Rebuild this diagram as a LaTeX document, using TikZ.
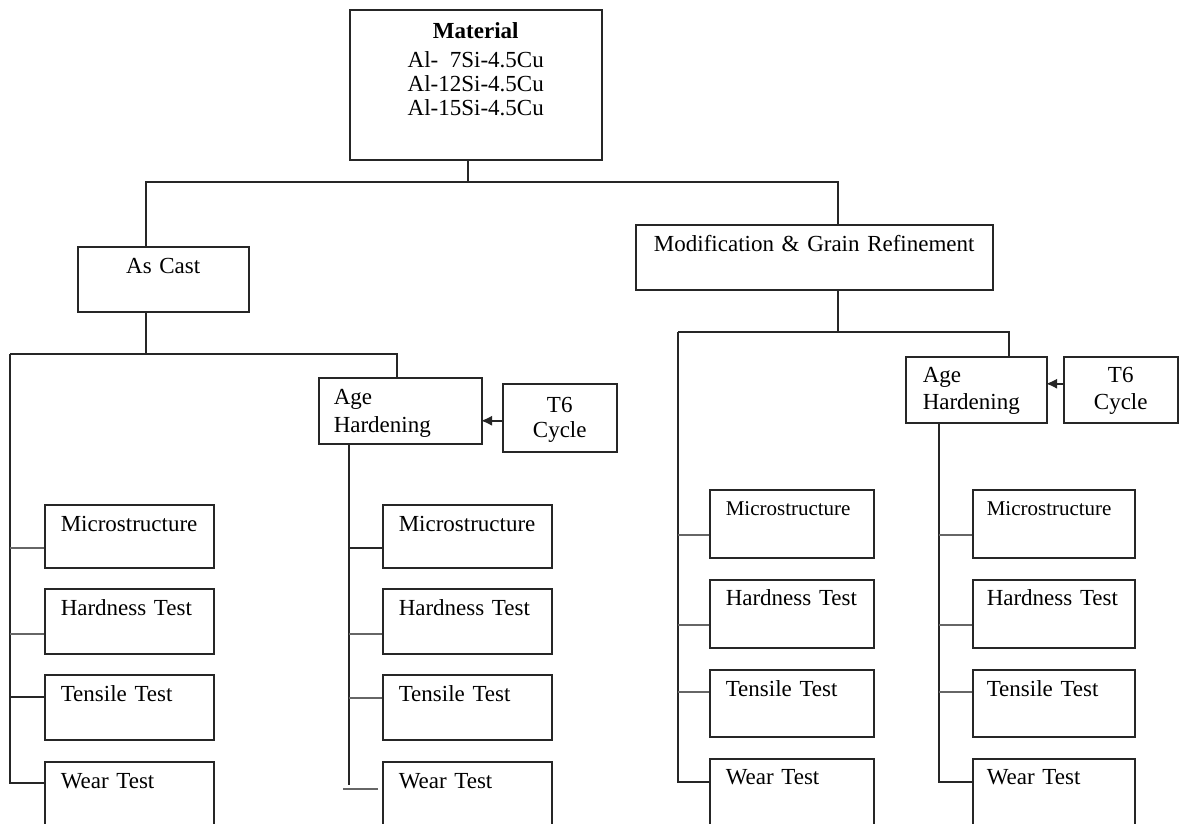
\documentclass[tikz,border=0pt]{standalone}
\usepackage{fontspec}
\setmainfont{Liberation Serif}
\usetikzlibrary{arrows.meta}
\newcommand\figfont{\fontsize{23}{27}\selectfont}
\newcommand\smallfig{\fontsize{21}{25}\selectfont}
\begin{document}
\begin{tikzpicture}[x=1pt,y=-1pt,
  bx/.style={draw=black!85, line width=1.5pt, anchor=north west, inner ysep=0pt, font=\figfont},
  lb/.style={bx, align=left},
  cb/.style={bx, align=center, inner xsep=4pt},
  ln/.style={draw=black!85, line width=1.5pt},
  tc/.style={draw=black!60, line width=1.8pt},
  arr/.style={ln, -{Latex[length=11pt,width=10pt]}},
]
\useasboundingbox (0,0) rectangle (1183,823);
\fill[white] (0,0) rectangle (1183,823);
\clip (0,0) rectangle (1183,823);

% top level
\node[cb, text width=244pt, text height=29pt, text depth=121pt, font={\fontsize{23}{24}\selectfont}] (mat) at (349,9)
  {\textbf{Material}\\[5pt]Al-\hphantom{1}7Si-4.5Cu\\Al-12Si-4.5Cu\\Al-15Si-4.5Cu};
\node[cb, text width=163pt, text height=27pt, text depth=38pt] (cast) at (77,246) {As Cast};
\node[cb, text width=349pt, text height=27pt, text depth=38pt] (mod) at (635,224) {Modification \& Grain Refinement};

% age hardening and T6
\node[lb, inner xsep=15pt, text width=133pt, text height=27pt, text depth=39pt, font={\fontsize{23}{28}\selectfont}] (ageL) at (318,377) {Age\\Hardening};
\node[cb, text width=106pt, text height=29pt, text depth=39pt, font={\fontsize{23}{25}\selectfont}] (t6L) at (502,383) {T6\\Cycle};
\node[lb, inner xsep=17pt, text width=107pt, text height=26pt, text depth=40pt] (ageR) at (905,356) {Age\\Hardening};
\node[cb, text width=106pt, text height=26pt, text depth=40pt] (t6R) at (1063,356) {T6\\Cycle};

% column 1
\node[lb, inner xsep=16pt, text width=137pt, text height=27pt, text depth=36pt] (mi1) at (44,504) {Microstructure};
\node[lb, inner xsep=16pt, text width=137pt, text height=27pt, text depth=38pt] (ha1) at (44,588) {Hardness Test};
\node[lb, inner xsep=16pt, text width=137pt, text height=27pt, text depth=38pt] (te1) at (44,674) {Tensile Test};
\node[lb, inner xsep=16pt, text width=137pt, text height=27pt, text depth=38pt] (we1) at (44,761) {Wear Test};
% column 2
\node[lb, inner xsep=16pt, text width=137pt, text height=27pt, text depth=36pt] (mi2) at (382,504) {Microstructure};
\node[lb, inner xsep=16pt, text width=137pt, text height=27pt, text depth=38pt] (ha2) at (382,588) {Hardness Test};
\node[lb, inner xsep=16pt, text width=137pt, text height=27pt, text depth=38pt] (te2) at (382,674) {Tensile Test};
\node[lb, inner xsep=16pt, text width=137pt, text height=27pt, text depth=38pt] (we2) at (382,761) {Wear Test};
% column 3
\node[lb, inner xsep=16pt, text width=132pt, text height=26pt, text depth=42pt] (mi3) at (709,489) {\smallfig Microstructure};
\node[lb, inner xsep=16pt, text width=132pt, text height=26pt, text depth=42pt] (ha3) at (709,579) {Hardness Test};
\node[lb, inner xsep=16pt, text width=132pt, text height=27pt, text depth=40pt] (te3) at (709,669) {Tensile Test};
\node[lb, inner xsep=16pt, text width=132pt, text height=26pt, text depth=42pt] (we3) at (709,758) {Wear Test};
% column 4
\node[lb, inner xsep=14pt, text width=134pt, text height=26pt, text depth=42pt] (mi4) at (972,489) {\smallfig Microstructure};
\node[lb, inner xsep=14pt, text width=134pt, text height=26pt, text depth=42pt] (ha4) at (972,579) {Hardness Test};
\node[lb, inner xsep=14pt, text width=134pt, text height=27pt, text depth=40pt] (te4) at (972,669) {Tensile Test};
\node[lb, inner xsep=14pt, text width=134pt, text height=26pt, text depth=42pt] (we4) at (972,758) {Wear Test};

% junction coordinates
\coordinate (t0) at (468,182);
\coordinate (tL) at (146,182);
\coordinate (tR) at (838,182);
\coordinate (s1) at (146,354);
\coordinate (v1) at (10,354);
\coordinate (v2) at (397,354);
\coordinate (v2b) at (349,0);
\coordinate (s2) at (838,332);
\coordinate (v3) at (678,332);
\coordinate (v4) at (1009,332);
\coordinate (v5) at (939,0);

% top connectors
\draw[ln] (mat.south -| t0) -- (t0);
\draw[ln] (cast.north -| tL) -- (tL) -- (tR) -- (mod.north -| tR);

% left branch
\draw[ln] (cast.south -| s1) -- (s1);
\draw[ln] (v1) -- (v2) -- (ageL.north -| v2);
\draw[ln] (v1) |- ([yshift=11.5pt]we1.west);
\draw[tc] ([yshift=-11.5pt]mi1.west) -- ++(-34,0);
\draw[tc] ([yshift=-12.5pt]ha1.west) -- ++(-34,0);
\draw[ln] ([yshift=10.5pt]te1.west) -- ++(-34,0);

\draw[ln] (ageL.south -| v2b) -- ++(0,340);
\draw[ln] ([yshift=-11.5pt]mi2.west) -- ++(-33,0);
\draw[tc] ([yshift=-12.5pt]ha2.west) -- ++(-33,0);
\draw[tc] ([yshift=9.5pt]te2.west) -- ++(-33,0);
\draw[tc] ([xshift=-4pt,yshift=5.5pt]we2.west) -- ++(-35,0);
\draw[arr] ([yshift=-3pt]t6L.west) -- ++(-21,0);

% right branch
\draw[ln] (mod.south -| s2) -- (s2);
\draw[ln] (v3) -- (v4) -- (ageR.north -| v4);
\draw[ln] (v3) |- ([yshift=11pt]we3.west);
\draw[tc] ([yshift=-11pt]mi3.west) -- ++(-31,0);
\draw[tc] ([yshift=-11pt]ha3.west) -- ++(-31,0);
\draw[tc] ([yshift=11.5pt]te3.west) -- ++(-31,0);

\draw[ln] (ageR.south -| v5) |- ([yshift=11pt]we4.west);
\draw[tc] ([yshift=-11pt]mi4.west) -- ++(-33,0);
\draw[tc] ([yshift=-11pt]ha4.west) -- ++(-33,0);
\draw[tc] ([yshift=11.5pt]te4.west) -- ++(-33,0);
\draw[arr] ([yshift=6pt]t6R.west) -- ++(-17,0);
\end{tikzpicture}
\end{document}
